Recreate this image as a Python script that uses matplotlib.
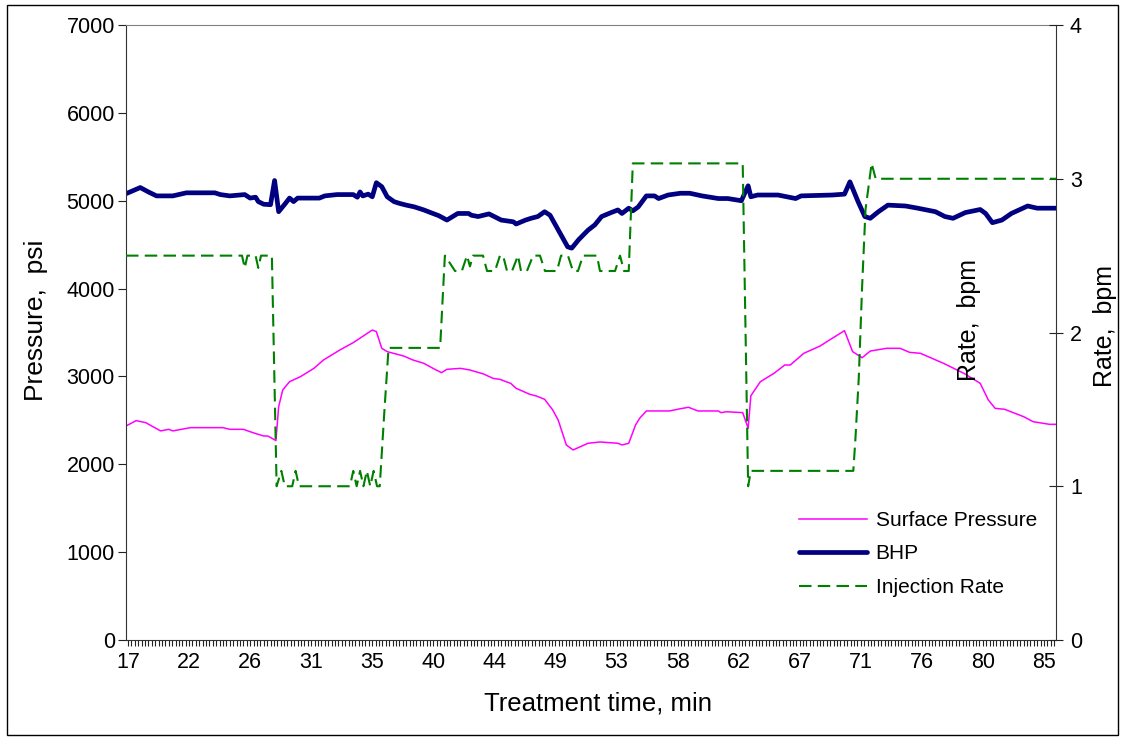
import numpy as np
import matplotlib.pyplot as plt
from matplotlib.patches import Rectangle

plt.rcParams['font.family'] = ['Liberation Sans', 'DejaVu Sans']

# treatment time (min) / BHP (psi)
bhp_t = [16.85, 17.9, 18.5, 19.1, 20.3, 21.3, 23.4, 23.8, 24.5, 25.6,
         26.0, 26.4, 26.6, 27.0, 27.5, 27.8, 28.1, 28.6, 28.9, 29.2,
         29.5, 31.1, 31.5, 32.4, 33.6, 33.9, 34.1, 34.3, 34.7, 35.0,
         35.3, 35.7, 36.1, 36.6, 37.0, 37.5, 38.1, 38.8, 39.3, 39.9,
         40.5, 41.3, 42.1, 42.3, 42.8, 43.6, 44.5, 45.4, 45.6, 46.3,
         46.7, 47.2, 47.7, 48.1, 49.4, 49.7, 50.2, 50.9, 51.4, 51.9,
         52.6, 53.1, 53.4, 53.9, 54.2, 54.6, 55.2, 55.8, 56.1, 56.8,
         57.7, 58.4, 59.3, 60.5, 61.2, 62.2, 62.7, 62.9, 63.4, 64.9,
         66.2, 66.6, 68.9, 69.8, 70.2, 70.8, 71.3, 71.7, 72.3, 73.0,
         74.3, 75.2, 76.5, 77.2, 77.8, 78.7, 79.8, 80.2, 80.7, 81.4,
         82.1, 83.3, 84.0, 85.39]
bhp = [5080, 5150, 5100, 5055, 5055, 5090, 5090, 5070, 5055, 5070,
       5030, 5040, 4990, 4960, 4955, 5230, 4875, 4970, 5030, 4990,
       5030, 5030, 5055, 5070, 5070, 5040, 5100, 5055, 5075, 5045,
       5205, 5160, 5045, 4990, 4970, 4950, 4930, 4895, 4865, 4830,
       4780, 4855, 4855, 4835, 4820, 4850, 4780, 4760, 4735, 4780,
       4800, 4820, 4875, 4835, 4475, 4460, 4555, 4665, 4725, 4820,
       4865, 4895, 4855, 4915, 4885, 4930, 5055, 5055, 5025, 5065,
       5085, 5085, 5055, 5025, 5025, 5000, 5170, 5045, 5065, 5065,
       5025, 5055, 5065, 5075, 5215, 4990, 4820, 4800, 4875, 4950,
       4940, 4915, 4875, 4820, 4800, 4865, 4900, 4855, 4750, 4780,
       4855, 4940, 4915, 4915]

# surface pressure (psi)
sp_t = [16.85, 17.6, 18.3, 19.4, 20.0, 20.3, 21.6, 24.0, 24.5, 25.5,
        26.2, 27.0, 27.3, 27.9, 28.1, 28.4, 28.9, 29.7, 30.7, 31.4,
        32.6, 33.6, 35.0, 35.3, 35.7, 36.1, 37.3, 38.0, 38.8, 39.5,
        40.1, 40.5, 41.5, 42.2, 43.2, 43.9, 44.4, 45.2, 45.6, 46.6,
        47.1, 47.7, 48.3, 48.7, 49.3, 49.8, 50.9, 51.8, 53.1, 53.4,
        53.9, 54.4, 54.7, 55.2, 56.9, 57.6, 58.3, 59.0, 60.5, 60.7,
        61.1, 62.3, 62.7, 62.9, 63.6, 64.6, 65.4, 65.8, 66.8, 68.0,
        68.7, 69.8, 70.4, 71.1, 71.7, 72.9, 73.9, 74.6, 75.4, 77.1,
        78.6, 79.8, 80.4, 80.9, 81.6, 83.0, 83.7, 84.9, 85.39]
sp = [2436, 2497, 2474, 2380, 2398, 2380, 2417, 2417, 2398, 2398,
      2360, 2322, 2322, 2270, 2656, 2846, 2940, 2997, 3092, 3187,
      3300, 3385, 3528, 3510, 3320, 3282, 3233, 3187, 3149, 3090,
      3043, 3081, 3092, 3073, 3028, 2978, 2967, 2921, 2865, 2797,
      2777, 2740, 2618, 2504, 2220, 2163, 2239, 2254, 2239, 2220,
      2239, 2447, 2523, 2607, 2607, 2629, 2649, 2607, 2607, 2588,
      2598, 2588, 2410, 2780, 2940, 3035, 3130, 3130, 3263, 3346,
      3415, 3521, 3282, 3213, 3289, 3320, 3320, 3274, 3263, 3149,
      3035, 2922, 2732, 2637, 2626, 2542, 2485, 2455, 2455]

# injection rate (bpm)
rate_t = [16.85, 25.4, 25.6, 25.8, 26.4, 26.6, 26.8, 27.6, 27.95, 28.3,
          28.55, 29.1, 29.35, 29.6, 33.35, 33.6, 33.85, 34.1, 34.35, 34.6,
          34.85, 35.1, 35.35, 35.55, 35.9, 36.2, 40.0, 40.35, 40.73, 41.1,
          41.6, 41.98, 42.2, 42.42, 43.16, 43.46, 44.04, 44.41, 44.64, 44.93,
          45.3, 45.74, 45.96, 46.4, 46.85, 47.36, 47.73, 48.61, 48.91, 49.42,
          49.79, 50.16, 50.53, 51.56, 51.78, 52.89, 53.26, 53.55, 53.9, 54.2,
          62.3, 62.7, 62.9, 70.45, 70.6, 70.85, 71.1, 71.35, 71.8, 72.1,
          85.39]
rate = [2.5, 2.5, 2.42, 2.5, 2.5, 2.42, 2.5, 2.5, 1.0, 1.1,
        1.0, 1.0, 1.1, 1.0, 1.0, 1.1, 1.0, 1.1, 1.0, 1.1,
        1.0, 1.1, 1.0, 1.0, 1.5, 1.9, 1.9, 2.5, 2.45, 2.4,
        2.4, 2.5, 2.43, 2.5, 2.5, 2.4, 2.4, 2.5, 2.5, 2.4,
        2.4, 2.5, 2.4, 2.4, 2.5, 2.5, 2.4, 2.4, 2.5, 2.5,
        2.4, 2.4, 2.5, 2.5, 2.4, 2.4, 2.5, 2.4, 2.4, 3.1,
        3.1, 1.0, 1.1, 1.1, 1.3, 1.7, 2.3, 2.8, 3.1, 3.0,
        3.0]

xtick_vals = [17, 21.5, 26, 30.5, 35, 39.5, 44, 48.5, 53, 57.5, 62, 66.5, 71, 75.5, 80, 84.5]
xtick_labels = ['17', '22', '26', '31', '35', '40', '44', '49', '53', '58',
                '62', '67', '71', '76', '80', '85']

fig = plt.figure(figsize=(11.22, 7.38), dpi=100)
ax = fig.add_axes([0.1123, 0.1328, 0.8289, 0.8333])
ax2 = ax.twinx()

l1, = ax.plot(sp_t, sp, color='#FF00FF', lw=1.1, label='Surface Pressure')
l2, = ax.plot(bhp_t, bhp, color='#000080', lw=3.4, solid_capstyle='round',
              solid_joinstyle='round', label='BHP')
l3, = ax2.plot(rate_t, rate, color='#008000', lw=1.5, dashes=(6, 3), label='Injection Rate')

ax.set_xlim(16.85, 85.39)
ax.set_ylim(0, 7000)
ax2.set_ylim(0, 4)
ax.set_yticks(range(0, 7001, 1000))
ax2.set_yticks([0, 1, 2, 3, 4])
ax.set_xticks(xtick_vals)
ax.set_xticklabels(xtick_labels)
ax.set_xticks(np.arange(17, 85.4, 0.25), minor=True)

ax.tick_params(axis='x', which='both', direction='out', length=4, width=0.8,
               labelsize=15.5, pad=5, colors='#222222', labelcolor='black')
ax.tick_params(axis='y', direction='out', length=6, width=0.8, labelsize=15.5, pad=2,
               colors='#222222', labelcolor='black')
ax2.tick_params(axis='y', direction='inout', length=10, width=0.8, labelsize=15.5, pad=5,
                colors='#222222', labelcolor='black')

for s in ['left', 'bottom']:
    ax.spines[s].set_color('#333333')
ax.spines['top'].set_color('#808080')
ax.spines['right'].set_visible(False)
for s in ['left', 'bottom', 'top']:
    ax2.spines[s].set_visible(False)
ax2.spines['right'].set_color('#333333')

ax.text(-0.097, 0.52, 'Pressure,  psi', transform=ax.transAxes, rotation=90,
        ha='center', va='center', fontsize=19)
ax.text(0.507, -0.104, 'Treatment time, min', transform=ax.transAxes,
        ha='center', va='center', fontsize=18.5)
ax.text(0.906, 0.52, 'Rate,  bpm', transform=ax.transAxes, rotation=90,
        ha='center', va='center', fontsize=18)
ax.text(1.053, 0.51, 'Rate,  bpm', transform=ax.transAxes, rotation=90,
        ha='center', va='center', fontsize=18)

ax.legend([l1, l2, l3], ['Surface Pressure', 'BHP', 'Injection Rate'],
          loc='center left', bbox_to_anchor=(0.703, 0.14), frameon=False,
          fontsize=15, handlelength=3.3, handletextpad=0.4, labelspacing=0.7)

fig.add_artist(Rectangle((0.006, 0.004), 0.99, 0.989, transform=fig.transFigure,
                         fill=False, ec='black', lw=1))

fig.savefig('out.png', dpi=100)
